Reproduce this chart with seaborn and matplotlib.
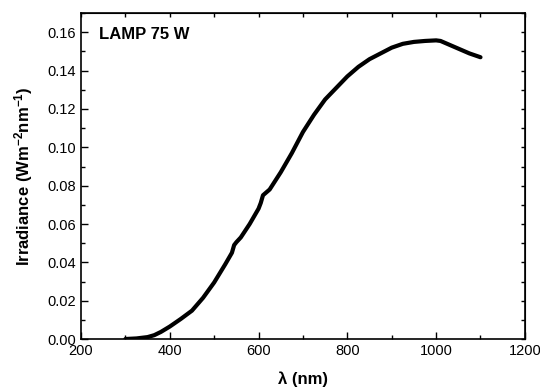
import pandas as pd
import seaborn as sns
import matplotlib.pyplot as plt
from matplotlib.ticker import MultipleLocator

# spectrum
wavelength = [300, 325, 350, 365, 380, 400, 425, 450, 475, 500, 525, 540, 545,
              550, 560, 580, 600, 605, 610, 625, 650, 675, 700, 725, 750, 775,
              800, 825, 850, 875, 900, 925, 950, 975, 1000, 1010, 1025, 1050,
              1075, 1100]
irradiance = [0.0, 0.0003, 0.001, 0.002, 0.0037, 0.0065, 0.0105, 0.0148, 0.0215,
              0.0295, 0.039, 0.045, 0.049, 0.0505, 0.053, 0.060, 0.068, 0.071,
              0.075, 0.078, 0.087, 0.097, 0.108, 0.117, 0.125, 0.131, 0.137,
              0.142, 0.146, 0.149, 0.152, 0.154, 0.155, 0.1555, 0.1558, 0.1555,
              0.154, 0.1515, 0.149, 0.147]

df = pd.DataFrame({"wl": wavelength, "irr": irradiance})

sns.set_style("ticks")
plt.rcParams["font.family"] = ["Liberation Sans", "DejaVu Sans"]
plt.rcParams["mathtext.default"] = "regular"
for key in ["text.color", "axes.labelcolor", "xtick.color", "ytick.color", "axes.edgecolor"]:
    plt.rcParams[key] = "black"

fig = plt.figure(figsize=(5.4, 3.87), dpi=100)
ax = fig.add_axes([0.15, 0.124, 0.822, 0.842])

sns.lineplot(data=df, x="wl", y="irr", color="black", linewidth=3, ax=ax)

ax.set_xlim(200, 1200)
ax.set_ylim(0, 0.17)
ax.xaxis.set_major_locator(MultipleLocator(200))
ax.xaxis.set_minor_locator(MultipleLocator(100))
ax.yaxis.set_major_locator(MultipleLocator(0.02))
ax.yaxis.set_minor_locator(MultipleLocator(0.01))
ax.yaxis.set_major_formatter(plt.FormatStrFormatter("%.2f"))

ax.tick_params(which="major", direction="in", length=5, width=1, labelsize=10.5)
ax.tick_params(which="minor", direction="in", length=3, width=1)
for s in ax.spines.values():
    s.set_linewidth(1.2)

# top / right: short ticks only
top = ax.secondary_xaxis("top")
top.xaxis.set_major_locator(MultipleLocator(100))
top.tick_params(direction="in", length=3, width=1, labeltop=False)
right = ax.secondary_yaxis("right")
right.yaxis.set_major_locator(MultipleLocator(0.01))
right.tick_params(direction="in", length=3, width=1, labelright=False)

ax.set_xlabel("λ (nm)", fontsize=12, fontweight="bold", labelpad=10)
ax.set_ylabel("Irradiance (Wm$^{-2}$nm$^{-1}$)", fontsize=12, fontweight="bold", labelpad=9)

ax.text(0.04, 0.935, "LAMP 75 W", transform=ax.transAxes, fontsize=12,
        fontweight="bold", va="center", ha="left")

fig.savefig("out.png", dpi=100)
